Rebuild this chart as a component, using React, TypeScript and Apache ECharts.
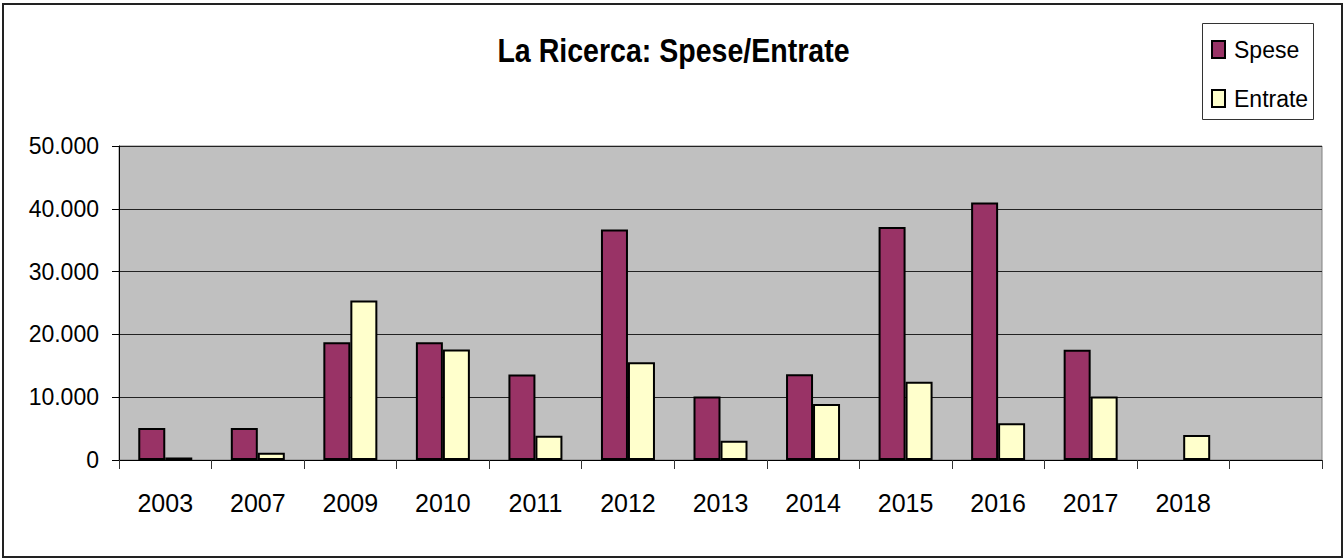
import React, { useEffect, useRef } from "react";
import * as echarts from "echarts";

const categories = ["2003", "2007", "2009", "2010", "2011", "2012", "2013", "2014", "2015", "2016", "2017", "2018", ""];
const spese = [5100, 5100, 18750, 18750, 13600, 36700, 10100, 13650, 37100, 41000, 17550, null, null];
const entrate = [400, 1150, 25400, 17600, 3870, 15560, 3080, 8930, 12480, 5850, 10100, 3990, null];
const yTicks = { min: 0, max: 50000, interval: 10000 };
const titleText = "La Ricerca: Spese/Entrate";

const FONT = "'Liberation Sans', Arial, Helvetica, sans-serif";

function fmt(v: number): string {
  return String(v).replace(/\B(?=(\d{3})+(?!\d))/g, ".");
}

export default function App() {
  const ref = useRef<HTMLDivElement>(null);
  useEffect(() => {
    if (!ref.current) return;
    const chart = echarts.init(ref.current, null, { renderer: "svg" });
    chart.setOption({
      animation: false,
      backgroundColor: "#ffffff",
      textStyle: { fontFamily: FONT },
      graphic: [
        {
          type: "rect",
          z: 0,
          shape: { x: 3, y: 4, width: 1339, height: 553 },
          style: { fill: "none", stroke: "#222", lineWidth: 2 },
          silent: true,
        },
        {
          type: "rect",
          z: 0,
          shape: { x: 1202.5, y: 23.5, width: 111, height: 96 },
          style: { fill: "#fff", stroke: "#333", lineWidth: 1 },
          silent: true,
        },
        {
          type: "text",
          z: 5,
          x: 673.5,
          y: 51,
          scaleX: 0.84,
          style: {
            text: titleText,
            align: "center",
            verticalAlign: "middle",
            fontFamily: FONT,
            fontWeight: "bold",
            fontSize: 34,
            fill: "#000",
          },
        },
      ],
      legend: {
        orient: "vertical",
        left: 1211,
        top: 38,
        itemWidth: 13,
        itemHeight: 17,
        itemGap: 26,
        padding: 0,
        icon: "rect",
        textStyle: { fontFamily: FONT, fontSize: 23, color: "#000", lineHeight: 17, padding: [0, 0, 0, 4] },
        data: ["Spese", "Entrate"],
      },
      grid: {
        left: 119,
        top: 146,
        right: 21,
        bottom: 98,
        show: true,
        backgroundColor: "#c0c0c0",
        borderColor: "#808080",
        borderWidth: 1,
      },
      xAxis: {
        type: "category",
        data: categories,
        axisLine: { lineStyle: { color: "#000", width: 1 } },
        axisTick: { show: true, length: 9, lineStyle: { color: "#333" } },
        axisLabel: { fontFamily: FONT, fontSize: 25, color: "#000", margin: 30, interval: 0 },
      },
      yAxis: {
        type: "value",
        min: yTicks.min,
        max: yTicks.max,
        interval: yTicks.interval,
        axisLine: { show: true, lineStyle: { color: "#000", width: 1 } },
        axisTick: { show: true, length: 7, lineStyle: { color: "#000" } },
        axisLabel: { fontFamily: FONT, fontSize: 23, color: "#000", margin: 20, formatter: (v: number) => fmt(v) },
        splitLine: { show: true, lineStyle: { color: "#222", width: 1 } },
      },
      series: [
        {
          name: "Spese",
          type: "bar",
          data: spese,
          barWidth: 27,
          barGap: "0%",
          itemStyle: { color: "#993366", borderColor: "#000", borderWidth: 2 },
        },
        {
          name: "Entrate",
          type: "bar",
          data: entrate,
          barWidth: 27,
          barGap: "0%",
          itemStyle: { color: "#ffffcc", borderColor: "#000", borderWidth: 2 },
        },
      ],
    });
    return () => chart.dispose();
  }, []);
  return <div ref={ref} style={{ position: "fixed", left: 0, top: 0, width: 1343, height: 558 }} />;
}
